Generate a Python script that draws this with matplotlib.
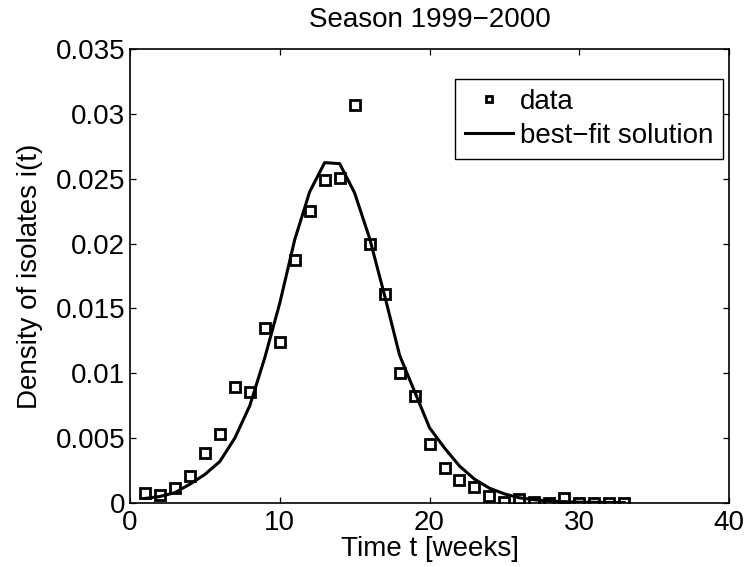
import matplotlib

matplotlib.use("Agg")
import matplotlib.pyplot as plt

plt.rcParams["font.family"] = ["Liberation Sans", "DejaVu Sans"]

# weekly isolate density, season 1999-2000
weeks = list(range(1, 34))
density = [
    0.00074, 0.00061, 0.00119, 0.0021, 0.00386, 0.00533, 0.00891, 0.00855,
    0.0135, 0.0124, 0.01872, 0.02248, 0.02489, 0.02502, 0.0307, 0.0200,
    0.01611, 0.01003, 0.00823, 0.00457, 0.00268, 0.00179, 0.00121, 0.00053,
    0.0001, 0.00028, 0.0001, 0.0, 0.00035, 0.0, 0.0, 0.0, 0.0,
]
# model output at the same weeks
fit = [
    0.00035, 0.0005, 0.0008, 0.00145, 0.0022, 0.0032, 0.005, 0.0075,
    0.0112, 0.0154, 0.0203, 0.0240, 0.02624, 0.02616, 0.0239, 0.0204,
    0.0160, 0.0114, 0.0086, 0.0058, 0.00424, 0.00285, 0.00184, 0.00114,
    0.0007, 0.0004, 0.00025, 0.00015, 0.0001, 0.00006, 0.00005, 0.00004, 0.00003,
]
xticks = [0, 10, 20, 30, 40]
yticks = [0, 0.005, 0.01, 0.015, 0.02, 0.025, 0.03, 0.035]
ytick_labels = ["0", "0.005", "0.01", "0.015", "0.02", "0.025", "0.03", "0.035"]

FS = 20

fig = plt.figure(figsize=(7.47, 5.67), dpi=100)
ax = fig.add_axes([0.174, 0.1129, 0.802, 0.8007])

ax.plot(weeks, density, ls="none", marker="s", ms=6.8, mfc="white",
        mec="black", mew=2.0, label="data")
ax.plot(weeks, fit, color="black", lw=2.2, label="best\u2212fit solution")

ax.set_xlim(0, 40)
ax.set_ylim(0, 0.035)
ax.set_xticks(xticks)
ax.set_yticks(yticks)
ax.set_yticklabels(ytick_labels)
ax.tick_params(direction="in", length=4.3, width=0.9, top=True, right=True,
               labelsize=FS)
ax.tick_params(axis="x", pad=5)
ax.tick_params(axis="y", pad=3.5)
for spine in ax.spines.values():
    spine.set_linewidth(1.2)

ax.set_xlabel("Time t [weeks]", fontsize=FS, labelpad=0)
ax.set_ylabel("Density of isolates i(t)", fontsize=FS, labelpad=9)
ax.set_title("Season 1999\u22122000", fontsize=FS, pad=16)

leg = ax.legend(loc="upper right", bbox_to_anchor=(0.990, 0.934), fontsize=FS,
                fancybox=False, edgecolor="black", framealpha=1,
                handlelength=1.73, handletextpad=0.25, borderpad=0.35,
                labelspacing=0.3, markerscale=0.65, borderaxespad=0)
leg.get_frame().set_linewidth(1.0)

fig.savefig("out.png", dpi=100)
